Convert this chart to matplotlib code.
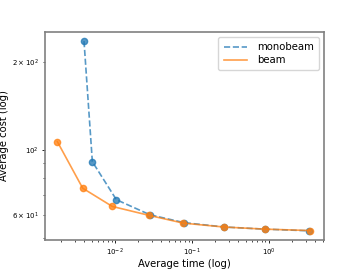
import matplotlib
matplotlib.use("Agg")
import matplotlib.pyplot as plt
from matplotlib.ticker import LogFormatterSciNotation

mono_time = [3.95e-3, 5.07e-3, 1.04e-2, 2.85e-2, 7.9e-2, 0.263, 0.88, 3.3]
mono_cost = [236, 91.2, 67.6, 60.0, 56.4, 54.5, 53.6, 52.9]
beam_time = [1.78e-3, 3.8e-3, 9.2e-3, 2.8e-2, 7.7e-2, 0.26, 0.88, 3.45]
beam_cost = [106.8, 74.0, 64.1, 59.7, 56.2, 54.5, 53.6, 53.0]

fig = plt.figure(figsize=(3.6, 2.7), dpi=100)
ax = fig.add_axes([45/360, 1-240/270, (324-45)/360, (240-32)/270])

ax.plot(mono_time, mono_cost, '--', color='#1f77b4', alpha=0.75, lw=1.2, label='monobeam')
ax.plot(mono_time, mono_cost, 'o', color='#1f77b4', alpha=0.75, ms=4.5)
ax.plot(beam_time, beam_cost, '-', color='#ff7f0e', alpha=0.75, lw=1.2, label='beam')
ax.plot(beam_time, beam_cost, 'o', color='#ff7f0e', alpha=0.75, ms=4.5)

ax.set_xscale('log')
ax.set_yscale('log')
ax.set_xlim(1.23e-3, 5.18)
ax.set_ylim(49.2, 253.5)
ax.set_xlabel('Average time (log)', fontsize=7.2, labelpad=1)
ax.set_ylabel('Average cost (log)', fontsize=7.2, labelpad=2)
ax.tick_params(labelsize=5, length=2.5, width=0.6, which='major', pad=2)
ax.tick_params(length=1.5, width=0.5, which='minor', labelsize=5)
ax.yaxis.set_major_locator(plt.FixedLocator([100]))
ax.yaxis.set_minor_locator(plt.FixedLocator([50, 60, 70, 80, 90, 200]))
ax.yaxis.set_major_formatter(LogFormatterSciNotation())
ax.yaxis.set_minor_formatter(plt.FixedFormatter(['', r'$\mathdefault{6\times10^{1}}$', '', '', '', r'$\mathdefault{2\times10^{2}}$']))
for s in ax.spines.values():
    s.set_color('#808080')
    s.set_linewidth(1.2)
leg = ax.legend(loc='upper right', fontsize=7.3, handlelength=2.3, borderpad=0.5,
                labelspacing=0.3, handletextpad=1.0, borderaxespad=0.5)
fig.savefig('out.png', dpi=100)
